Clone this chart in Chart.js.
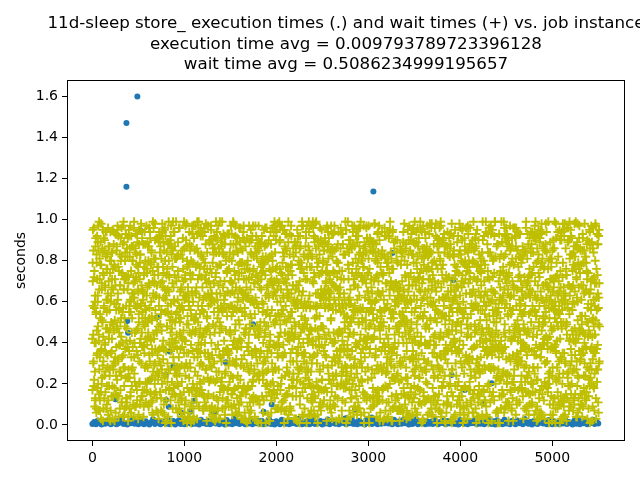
<!DOCTYPE html>
<html>
<head>
<meta charset="utf-8">
<script src="https://cdn.jsdelivr.net/npm/chart.js@4.4.1/dist/chart.umd.min.js"></script>
<style>body{margin:0;background:#fff}</style>
</head>
<body>
<canvas id="chart" width="640" height="480"></canvas>
<script>
const titleLines = [
    "11d-sleep store_ execution times (.) and wait times (+) vs. job instance",
    "execution time avg = 0.009793789723396128",
    "wait time avg = 0.5086234999195657"
]

// wait time (hundredths of a second).
// Each table has 61 rows of 30 samples; the columns run along the job axis
// (column c, row r -> job (c*61 + r)*3), the last short row covers the tail.
// Table A sits on jobs 0,3,6,... and table B on jobs 1,4,7,...
const waitStep = 3
const waitRows = 61
const waitCols = 30
const waitTimesA = [
    42,87,13,65,91,28,4,76,53,19,88,35,61,7,94,47,22,70,58,11,83,39,96,26,50,2,73,31,67,15,
    79,56,9,38,84,24,97,62,17,45,71,33,89,5,57,29,81,48,12,68,93,36,1,75,54,21,86,40,63,10,
    95,27,72,49,16,82,3,59,37,90,66,8,44,77,25,99,52,14,69,32,85,6,60,41,23,78,55,18,92,46,
    30,74,11,64,87,20,51,97,34,6,80,43,58,15,91,26,70,3,48,83,39,62,9,76,55,24,94,37,13,68,
    85,2,47,73,29,61,18,90,36,53,79,8,66,41,22,95,57,12,84,31,71,45,5,63,88,27,50,16,98,34,
    19,60,82,39,7,75,52,28,93,44,14,69,87,33,58,1,77,46,24,89,62,10,54,81,37,96,21,66,4,49,
    72,35,91,17,56,83,26,64,9,47,78,38,3,99,59,20,86,42,68,13,51,94,30,74,6,43,88,25,61,15,
    57,80,23,48,92,11,65,34,76,2,55,89,18,41,71,28,97,50,7,63,84,36,19,78,44,92,10,67,31,85,
    40,14,73,58,27,96,46,5,81,62,22,90,35,69,12,53,77,29,79,43,8,65,87,16,57,32,74,1,48,93,
    26,67,4,88,38,52,15,79,45,71,30,97,60,18,84,39,6,55,63,24,66,11,80,47,33,91,58,20,76,9,
    63,42,95,21,70,8,54,86,31,17,75,49,2,92,64,37,13,82,59,27,98,44,71,5,39,87,16,61,50,79,
    12,84,36,56,94,28,67,3,46,78,25,60,89,14,52,99,33,74,7,41,68,19,85,56,22,96,43,10,73,35,
    91,3,58,29,77,45,11,83,64,38,95,20,57,72,6,48,87,26,62,15,79,53,34,90,1,66,28,81,44,18,
    54,76,23,97,41,65,18,30,88,9,50,74,35,13,93,61,42,85,21,70,4,57,96,38,73,12,47,89,25,64,
    8,49,86,16,62,37,99,55,24,80,43,7,68,91,29,76,51,17,65,34,58,82,11,45,67,30,92,5,59,40,
    83,27,61,74,10,52,33,92,70,19,88,56,25,47,3,84,38,65,9,79,27,93,49,16,62,85,36,71,23,98,
    46,94,14,39,85,6,78,45,15,63,31,97,80,58,40,22,69,2,54,89,43,20,75,60,8,51,34,77,96,13,
    71,31,55,89,23,67,50,8,93,36,73,11,42,64,86,17,96,48,31,61,14,88,3,70,41,94,25,57,19,82,
    35,78,6,50,96,29,84,21,58,44,1,79,27,99,56,33,12,74,87,6,39,65,52,29,83,17,63,46,90,24,
    60,18,92,43,66,13,40,72,5,97,63,34,86,19,75,50,91,28,62,45,80,9,97,36,14,72,55,2,68,38,
    89,51,27,80,1,58,94,37,69,26,48,84,10,53,22,90,65,40,7,82,24,57,44,78,61,33,99,85,11,66,
    20,71,45,9,61,85,16,99,39,75,14,56,92,30,68,4,43,83,50,18,96,36,69,12,89,47,7,28,54,79,
    97,33,64,87,25,42,73,3,55,11,88,62,21,77,40,59,28,96,15,71,52,1,86,58,24,93,39,65,81,16,
    44,6,80,52,36,91,29,64,83,47,19,70,38,5,94,25,74,57,82,32,67,46,17,99,35,61,79,10,42,88,
    15,93,38,68,12,76,54,22,98,60,33,1,79,46,85,13,61,36,50,91,8,27,74,41,63,18,53,90,29,71,
    66,24,87,31,73,2,47,90,17,84,56,95,28,64,9,52,81,19,70,39,98,60,33,5,77,44,22,67,95,3,
    81,59,10,94,48,63,20,77,41,7,68,35,53,87,31,74,4,92,43,23,65,14,88,51,26,82,9,56,37,74,
    33,87,72,16,55,35,96,8,64,90,27,45,76,16,59,97,48,26,84,11,56,40,71,4,99,36,62,86,15,50,
    7,48,62,79,21,86,39,57,30,52,81,14,99,42,67,20,88,57,6,74,33,92,17,63,45,70,28,13,91,59,
    78,14,99,41,66,28,82,12,73,19,62,86,5,38,24,79,35,69,94,53,1,82,48,37,96,21,80,58,34,8,
    52,95,25,60,89,10,43,68,97,34,16,71,47,83,2,56,91,30,18,65,87,42,24,75,8,54,93,39,67,22,
    16,61,40,85,4,73,58,26,49,92,38,7,65,27,80,44,13,77,52,95,29,66,10,84,57,31,74,1,46,89,
    98,32,70,23,54,97,15,84,6,61,76,50,20,96,36,68,85,3,63,40,12,78,59,35,92,18,48,72,26,64,
    37,77,9,51,80,41,67,34,88,22,2,93,57,11,72,29,49,94,33,76,55,5,86,20,43,67,13,98,60,19,
    69,4,84,35,17,63,92,45,29,75,53,28,83,62,45,9,71,18,60,1,90,38,64,47,25,81,58,35,7,94,
    23,56,93,12,72,30,8,99,56,14,41,66,35,90,19,87,57,42,10,81,28,73,32,96,11,62,89,21,78,44,
    86,45,19,75,39,98,61,3,37,82,70,15,47,48,66,32,23,79,45,69,15,63,6,53,74,40,17,50,84,30,
    50,26,78,5,88,49,22,70,13,59,75,44,8,74,31,55,89,11,86,26,61,46,80,16,69,3,95,41,27,66,
    2,83,36,64,27,80,14,48,91,27,6,77,52,39,94,17,64,36,72,3,88,24,57,36,91,49,33,73,12,56,
    74,39,57,96,45,18,76,58,24,69,35,89,18,63,3,81,42,92,28,53,7,68,99,41,21,85,65,8,59,97,
    31,68,12,42,92,53,35,87,62,4,83,53,71,22,58,38,9,66,51,97,34,77,13,60,87,28,6,94,47,20,
    91,17,89,29,59,6,94,31,78,44,15,62,26,88,45,73,84,20,40,14,80,50,85,27,54,72,37,63,82,38,
    58,80,47,73,1,64,40,19,51,97,68,25,94,10,75,28,51,99,7,62,45,19,72,93,11,46,98,23,15,71,
    13,52,66,20,83,35,71,89,10,36,80,41,57,79,33,92,14,56,78,32,97,59,26,38,66,84,19,54,77,43,
    85,24,3,90,47,78,27,55,96,73,21,93,30,47,64,5,88,32,23,86,4,67,49,82,2,58,79,31,99,9,
    40,96,74,37,15,60,98,13,42,84,63,8,77,61,19,89,43,70,59,11,76,36,91,14,74,38,5,65,44,86,
    67,11,54,81,69,23,46,84,66,2,39,75,49,17,96,55,25,81,4,94,52,21,63,45,88,16,61,95,27,52,
    26,73,95,16,51,88,9,34,79,59,92,31,13,85,37,67,98,29,65,39,18,83,8,72,33,99,49,10,71,36,
    94,40,31,63,85,4,69,93,22,48,16,55,82,44,71,8,60,14,90,48,73,35,93,56,24,69,87,42,4,61,
    47,88,21,7,38,74,53,17,86,30,70,97,40,65,24,92,33,76,44,83,27,57,1,80,62,9,53,75,89,18,
    8,57,79,45,94,28,84,61,41,12,99,64,27,91,7,50,80,2,68,21,90,12,46,28,97,34,76,14,60,35,
    76,34,10,68,30,56,13,92,3,72,49,22,87,34,59,83,37,54,97,30,62,85,39,65,17,81,42,92,51,25,
    55,99,83,26,61,1,47,70,38,90,28,78,5,58,41,19,72,95,13,75,43,6,77,50,86,23,58,32,6,69,
    19,66,42,91,15,80,35,25,74,57,8,45,94,75,12,87,61,23,46,87,10,96,27,12,54,70,3,90,79,44,
    83,5,59,36,73,44,97,63,16,85,53,37,20,69,88,30,4,67,85,39,58,31,71,92,41,16,85,47,23,98,
    34,71,95,22,87,17,58,9,79,47,76,14,63,42,26,96,52,38,16,62,93,49,15,36,79,64,30,11,67,51,
    61,28,14,77,50,65,32,82,55,25,95,68,33,2,83,56,11,89,74,5,35,80,56,99,7,45,88,60,36,13,
    96,48,66,3,40,93,21,46,91,10,39,86,57,78,18,44,93,28,60,82,24,70,4,43,91,26,55,72,97,27,
    12,84,38,58,27,73,89,1,64,33,71,22,47,97,64,35,79,9,50,31,87,14,65,20,81,37,19,98,45,76,
    70,23,52,94,8,46,62,37,18,89,15,60,83,9,54,72,17,40,95,66,49,90,29,59,13,76,62,4,31,56,
    45,93,17,31,81,60,7,75,97,50,66,43,26,87,36,22,84,61,33,76,1,55,83,38,68,10,94,50,86,21,
    88,39,64,11,57,92,30,69,48
]
const waitTimesB = [
    17,3,58,61,92,44,8,29,75,71,36,98,50,12,66,83,21,27,90,5,47,53,79,14,38,96,62,31,9,85,
    70,24,41,88,16,55,2,67,93,34,77,19,59,46,81,11,28,64,69,40,6,73,52,25,87,43,15,68,95,32,
    58,80,13,4,49,37,91,22,65,76,1,54,89,30,45,18,72,97,60,26,84,10,39,51,7,63,93,20,35,78,
    44,47,86,9,69,28,33,95,12,57,74,40,3,82,62,21,50,90,15,36,98,71,8,56,24,67,84,42,5,61,
    31,94,23,77,54,6,85,40,18,64,92,27,48,11,73,58,37,2,80,96,52,14,69,33,88,45,20,76,59,10,
    96,7,66,35,13,89,51,74,29,3,60,43,84,70,22,95,16,56,34,79,41,87,25,62,1,48,73,99,30,53,
    22,63,38,94,81,19,45,9,57,87,26,99,14,39,65,52,83,6,47,71,12,30,91,68,55,18,36,80,64,4,
    75,50,2,28,46,72,97,61,35,15,82,53,68,96,8,24,41,77,90,19,59,83,3,44,27,92,11,57,86,37,
    9,84,69,52,20,33,14,88,93,47,6,76,31,58,42,86,1,63,25,55,96,37,78,10,70,49,65,23,15,91,
    60,36,27,80,98,58,77,4,21,67,40,90,22,7,85,34,71,48,13,99,29,62,18,84,38,5,94,52,73,45,
    13,71,92,42,6,25,64,49,84,30,59,17,95,74,51,3,89,36,66,8,76,46,57,27,93,81,20,43,2,68,
    87,19,55,11,67,96,37,22,70,91,12,45,61,34,97,78,15,53,40,88,5,72,33,99,14,58,84,26,49,79,
    40,95,8,76,32,50,86,14,58,1,79,66,28,89,20,43,62,94,7,57,35,91,64,3,81,47,28,71,96,24,
    55,29,82,63,89,15,3,69,44,76,33,8,92,52,16,71,26,83,45,68,18,51,96,40,61,10,77,37,13,85,
    6,66,41,20,74,57,93,31,97,18,87,54,38,4,69,90,47,12,49,29,73,24,9,80,52,35,91,63,57,16,
    79,14,97,50,37,83,24,60,9,62,45,23,78,98,31,59,84,38,2,94,60,86,43,17,75,66,5,48,89,30,
    34,88,16,67,5,43,71,86,53,27,96,11,65,39,82,7,55,73,30,49,11,39,77,92,22,85,56,14,68,44,
    92,46,60,28,95,12,58,2,80,40,19,73,49,86,24,62,97,18,67,5,88,57,31,63,8,41,97,81,26,53,
    18,59,75,87,24,66,36,91,15,71,82,33,1,57,93,45,14,50,85,76,23,68,47,12,99,29,70,38,90,65,
    63,2,33,45,80,21,99,48,65,6,54,95,70,21,10,87,40,61,29,96,35,2,84,54,36,77,16,59,7,82,
    48,77,87,10,55,38,9,74,31,89,26,63,14,81,45,66,91,3,78,52,70,16,93,27,60,46,90,24,41,12,
    85,30,19,69,92,4,62,84,23,49,96,39,76,58,33,13,73,56,22,87,44,98,6,65,17,82,53,71,99,37,
    7,68,52,96,17,81,44,26,99,3,67,12,87,35,61,50,22,92,8,39,58,27,80,42,89,11,34,5,63,75,
    41,93,28,34,63,56,77,13,88,54,20,82,45,1,97,28,65,38,85,72,14,49,30,94,37,73,61,86,19,50,
    99,15,80,57,2,70,21,94,41,66,36,7,59,90,74,17,43,81,62,11,92,55,77,9,25,56,2,47,83,28,
    27,56,64,22,84,46,35,61,10,95,80,51,28,18,41,86,97,7,31,66,39,83,21,58,74,93,44,13,67,90,
    71,38,4,91,48,16,92,52,75,29,5,87,63,79,14,36,55,69,55,23,78,3,64,47,15,31,86,70,9,57,
    12,85,69,42,76,99,30,7,57,83,48,24,97,43,67,88,1,25,53,84,10,61,96,34,82,59,22,38,92,43,
    54,22,96,15,30,61,83,39,18,72,64,93,34,9,56,20,76,44,89,17,50,71,27,88,6,40,68,99,31,74,
    89,47,33,78,58,6,72,97,46,13,90,58,16,73,25,94,61,11,40,99,33,85,54,19,66,79,3,52,20,14,
    36,97,62,11,88,41,17,55,92,35,2,77,48,53,86,6,37,79,66,28,91,4,43,72,49,24,95,60,83,46,
    3,64,21,84,27,71,56,86,8,60,39,69,97,26,19,52,90,33,15,58,76,41,12,93,38,65,83,8,56,27,
    78,31,45,53,99,24,94,3,67,21,82,15,40,62,79,45,8,59,98,43,23,62,88,1,71,17,50,36,75,95,
    20,92,86,37,65,12,43,78,32,97,53,85,4,89,34,71,56,26,80,10,69,95,37,60,83,53,6,91,44,64,
    66,14,58,6,73,90,29,50,85,11,44,26,74,59,13,97,42,82,48,35,84,19,57,28,9,87,72,22,68,1,
    51,75,9,70,40,62,81,16,38,76,94,62,31,7,88,23,67,4,73,94,54,30,79,45,96,14,38,79,13,86,
    84,39,72,99,18,35,7,64,91,47,20,3,82,66,44,58,59,39,14,61,7,48,90,71,32,62,91,55,41,23,
    29,57,46,26,51,87,55,33,5,69,88,42,60,17,79,9,27,91,57,86,42,75,15,36,59,83,4,28,87,70,
    95,8,83,62,90,1,45,78,60,25,12,73,51,95,30,68,85,47,23,2,96,35,66,84,20,47,77,64,10,37,
    43,68,17,44,12,77,96,21,84,54,71,99,35,22,62,40,13,74,88,52,26,67,6,11,93,55,33,16,98,59,
    8,50,93,81,36,28,63,91,19,37,56,5,87,75,46,92,18,63,3,71,81,10,58,44,72,39,93,48,65,27,
    73,26,59,15,97,67,11,47,71,87,30,64,23,48,3,76,54,95,36,16,43,89,38,97,25,8,61,82,34,89,
    57,91,34,69,54,3,79,23,40,62,96,18,91,80,37,14,89,31,61,78,99,55,17,28,64,85,46,11,76,2,
    24,43,77,30,86,49,35,99,6,13,76,44,58,29,67,95,42,7,49,82,33,12,79,66,53,21,94,70,40,51,
    90,11,65,98,21,58,88,56,74,92,26,83,1,64,45,25,70,84,20,55,67,92,45,2,90,37,15,58,87,32,
    39,82,5,56,42,16,73,8,49,33,69,9,97,36,86,61,10,52,95,27,6,50,86,34,73,63,81,25,4,96,
    68,33,50,24,77,94,27,67,89,59,17,52,71,12,55,39,98,68,14,40,89,74,23,61,10,96,40,54,72,19,
    16,74,88,63,8,45,62,36,14,81,97,35,42,85,20,79,47,2,83,65,19,37,59,95,46,29,68,1,31,84,
    82,55,20,46,99,30,2,83,57,24,50,78,26,66,93,11,60,35,72,91,54,14,87,41,78,7,52,90,62,48,
    35,4,71,91,33,85,52,18,96,44,65,7,81,39,28,74,84,23,5,47,62,98,30,16,57,44,86,33,19,72,
    61,97,40,13,67,9,76,41,29,86,13,92,60,57,3,49,34,94,68,26,78,41,70,53,85,24,12,67,98,7,
    94,28,83,52,18,71,97,59,11,70,38,47,22,89,75,96,16,55,42,12,91,63,4,81,31,68,39,50,24,58,
    10,66,12,77,60,39,23,88,65,1,84,55,99,18,45,63,88,8,32,85,21,56,95,37,16,93,77,3,86,44,
    47,89,58,34,94,53,64,5,32,97,27,73,44,70,93,8,27,76,61,49,70,9,32,74,63,46,21,61,42,80,
    76,19,98,6,25,87,15,36,79,43,63,19,85,33,57,41,81,52,4,97,36,83,58,27,8,88,50,94,13,35,
    28,52,30,73,81,11,48,92,55,22,90,68,5,62,37,84,14,66,90,20,53,17,78,99,42,72,30,56,76,97,
    64,8,68,48,41,97,70,26,85,12,51,31,77,96,20,57,73,37,18,59,84,45,11,64,87,5,69,20,91,3,
    5,80,45,89,14,63,33,80,3,67,94,25,46,16,71,99,29,86,47,77,2,67,90,39,21,54,98,35,47,62,
    87,37,91,25,54,36,90,12,61,46,8,82,58,74,39,5,65,44,93,13,62,28,48,82,70,15,43,79,8,69,
    42,71,14,62,99,20,8,57,94,35,77,42,19,88,61,31,94,22,55,71,32,95,19,6,56,91,60,25,74,37,
    19,93,55,37,70,79,44,74,28,88,60,3,97,28,50,80,12,58,83,39,87,73,3,46,34,66,84,12,53,93,
    73,27,88,49,6,62,95,31
]

// execution time (thousandths of a second), one reading every 20th job instance
const execStep = 20
const execTimes = [
    5,14,3,22,8,2,17,6,11,27,4,9,19,3,7,13,25,5,10,2,16,8,29,
    6,12,3,24,9,4,18,7,2,13,28,5,10,21,3,8,15,6,26,4,11,19,2,
    9,23,5,14,3,7,30,10,4,17,6,12,2,25,8,15,5,20,3,11,27,7,13,
    4,18,9,2,24,6,13,3,29,8,16,5,10,22,4,12,7,26,3,14,9,19,6,
    21,3,11,7,28,5,15,2,18,9,4,25,12,6,17,3,23,8,13,5,30,10,4,
    14,6,20,3,9,26,5,12,8,19,2,16,7,27,4,11,22,6,15,3,10,24,8,
    3,17,9,28,5,13,4,21,7,11,2,25,8,16,5,29,10,3,19,6,14,9,23,
    7,12,4,26,10,3,18,6,24,9,15,2,20,5,11,28,4,13,8,22,3,17,6,
    16,5,27,8,3,14,10,22,4,19,7,12,30,5,9,2,24,11,6,17,3,21,8,
    10,25,4,15,6,20,3,12,28,8,5,18,2,23,9,14,4,26,7,11,3,19,13,
    4,22,8,17,3,29,11,6,14,2,20,9,5,27,12,7,16,3,24,10,4,18,6,
    12,3,19,7,25,5,15,9,2,21,6,28,4,13,8,23,3,17,10,26,5,11,7
]

// slow jobs that stand out from the band
const slowJobs = [370, 370, 489, 3055, 530, 380, 388, 703, 1746, 841, 877, 797, 624, 1450, 250, 801, 830, 967,
    1102, 1062, 1322, 1862, 3261, 3924, 3906, 1950, 2855, 2765, 3037, 4341, 4051, 4250, 300, 5482, 2747]
const slowTimes = [1.47, 1.16, 1.60, 1.137, 0.945, 0.506, 0.449, 0.525, 0.49, 0.358, 0.284, 0.245, 0.219, 0.305, 0.125, 0.122, 0.089, 0.06,
    0.118, 0.065, 0.06, 0.065, 0.838, 0.705, 0.243, 0.1, 0.076, 0.033, 0.037, 0.203, 0.17, 0.105, 0.024, 0.016, 0.032]

const xTicks = [0, 1000, 2000, 3000, 4000, 5000]
const yTicks = [0, 0.2, 0.4, 0.6, 0.8, 1.0, 1.2, 1.4, 1.6]

const FONT = "DejaVu Sans"

function waitJob(i, offset) {
    let full = waitRows * waitCols
    if (i >= full) return full * waitStep + (i - full) * waitStep + offset
    return ((i % waitCols) * waitRows + Math.floor(i / waitCols)) * waitStep + offset
}

let waitPoints = waitTimesA.map((v, i) => ({ x: waitJob(i, 0), y: v / 100 }))
waitTimesB.forEach((v, i) => waitPoints.push({ x: waitJob(i, 1), y: v / 100 }))
let execPoints = execTimes.map((v, i) => ({ x: i * execStep, y: v / 1000 }))
slowJobs.forEach((job, i) => execPoints.push({ x: job, y: slowTimes[i] }))

// matplotlib style box round the axes + three-line title centred on the axes
const frameAndTitle = {
    id: "frameAndTitle",
    afterDraw(chart) {
        let ctx = chart.ctx
        let a = chart.chartArea
        ctx.save()
        ctx.strokeStyle = "#000"
        ctx.lineWidth = 1
        ctx.strokeRect(Math.round(a.left) + 0.5, Math.round(a.top) + 0.5,
            Math.round(a.right - a.left) - 1, Math.round(a.bottom - a.top) - 1)
        ctx.fillStyle = "#000"
        ctx.font = "16.7px '" + FONT + "'"
        ctx.textAlign = "center"
        ctx.textBaseline = "alphabetic"
        let cx = (a.left + a.right) / 2
        titleLines.forEach((line, i) => ctx.fillText(line, cx, 28 + i * 20.5))
        ctx.restore()
    }
}

function axisOptions(min, max, tickValues, fmt) {
    return {
        type: "linear",
        min: min,
        max: max,
        afterBuildTicks: s => { s.ticks = tickValues.map(v => ({ value: v })) },
        grid: { drawOnChartArea: false, drawTicks: true, tickLength: 5, tickColor: "#000", tickWidth: 1 },
        border: { display: false },
        ticks: {
            color: "#000",
            font: { family: FONT, size: 14 },
            padding: 4,
            autoSkip: false,
            maxRotation: 0,
            callback: fmt
        }
    }
}

let xAxis = axisOptions(-276, 5791, xTicks, v => String(v))
xAxis.afterFit = s => { s.height = 39 }
let yAxis = axisOptions(-0.078, 1.68, yTicks, v => v.toFixed(1))
yAxis.afterFit = s => { s.width = 67 }
yAxis.title = { display: true, text: "seconds", color: "#000", font: { family: FONT, size: 14 }, padding: { top: 13, bottom: 0 } }

new Chart(document.getElementById("chart").getContext("2d"), {
    type: "scatter",
    data: {
        datasets: [
            {
                label: "wait",
                data: waitPoints,
                pointStyle: "cross",
                pointRadius: 4.4,
                borderWidth: 1.9,
                borderColor: "#bfbf00",
                backgroundColor: "#bfbf00"
            },
            {
                label: "execution",
                data: execPoints,
                pointStyle: "circle",
                pointRadius: 3,
                borderWidth: 0,
                backgroundColor: "#1f77b4",
                borderColor: "#1f77b4"
            }
        ]
    },
    options: {
        responsive: false,
        animation: false,
        devicePixelRatio: 1,
        layout: { padding: { top: 80, right: 15, left: 0, bottom: 0 } },
        plugins: { legend: { display: false }, tooltip: { enabled: false }, title: { display: false } },
        scales: { x: xAxis, y: yAxis }
    },
    plugins: [frameAndTitle]
})
</script>
</body>
</html>
